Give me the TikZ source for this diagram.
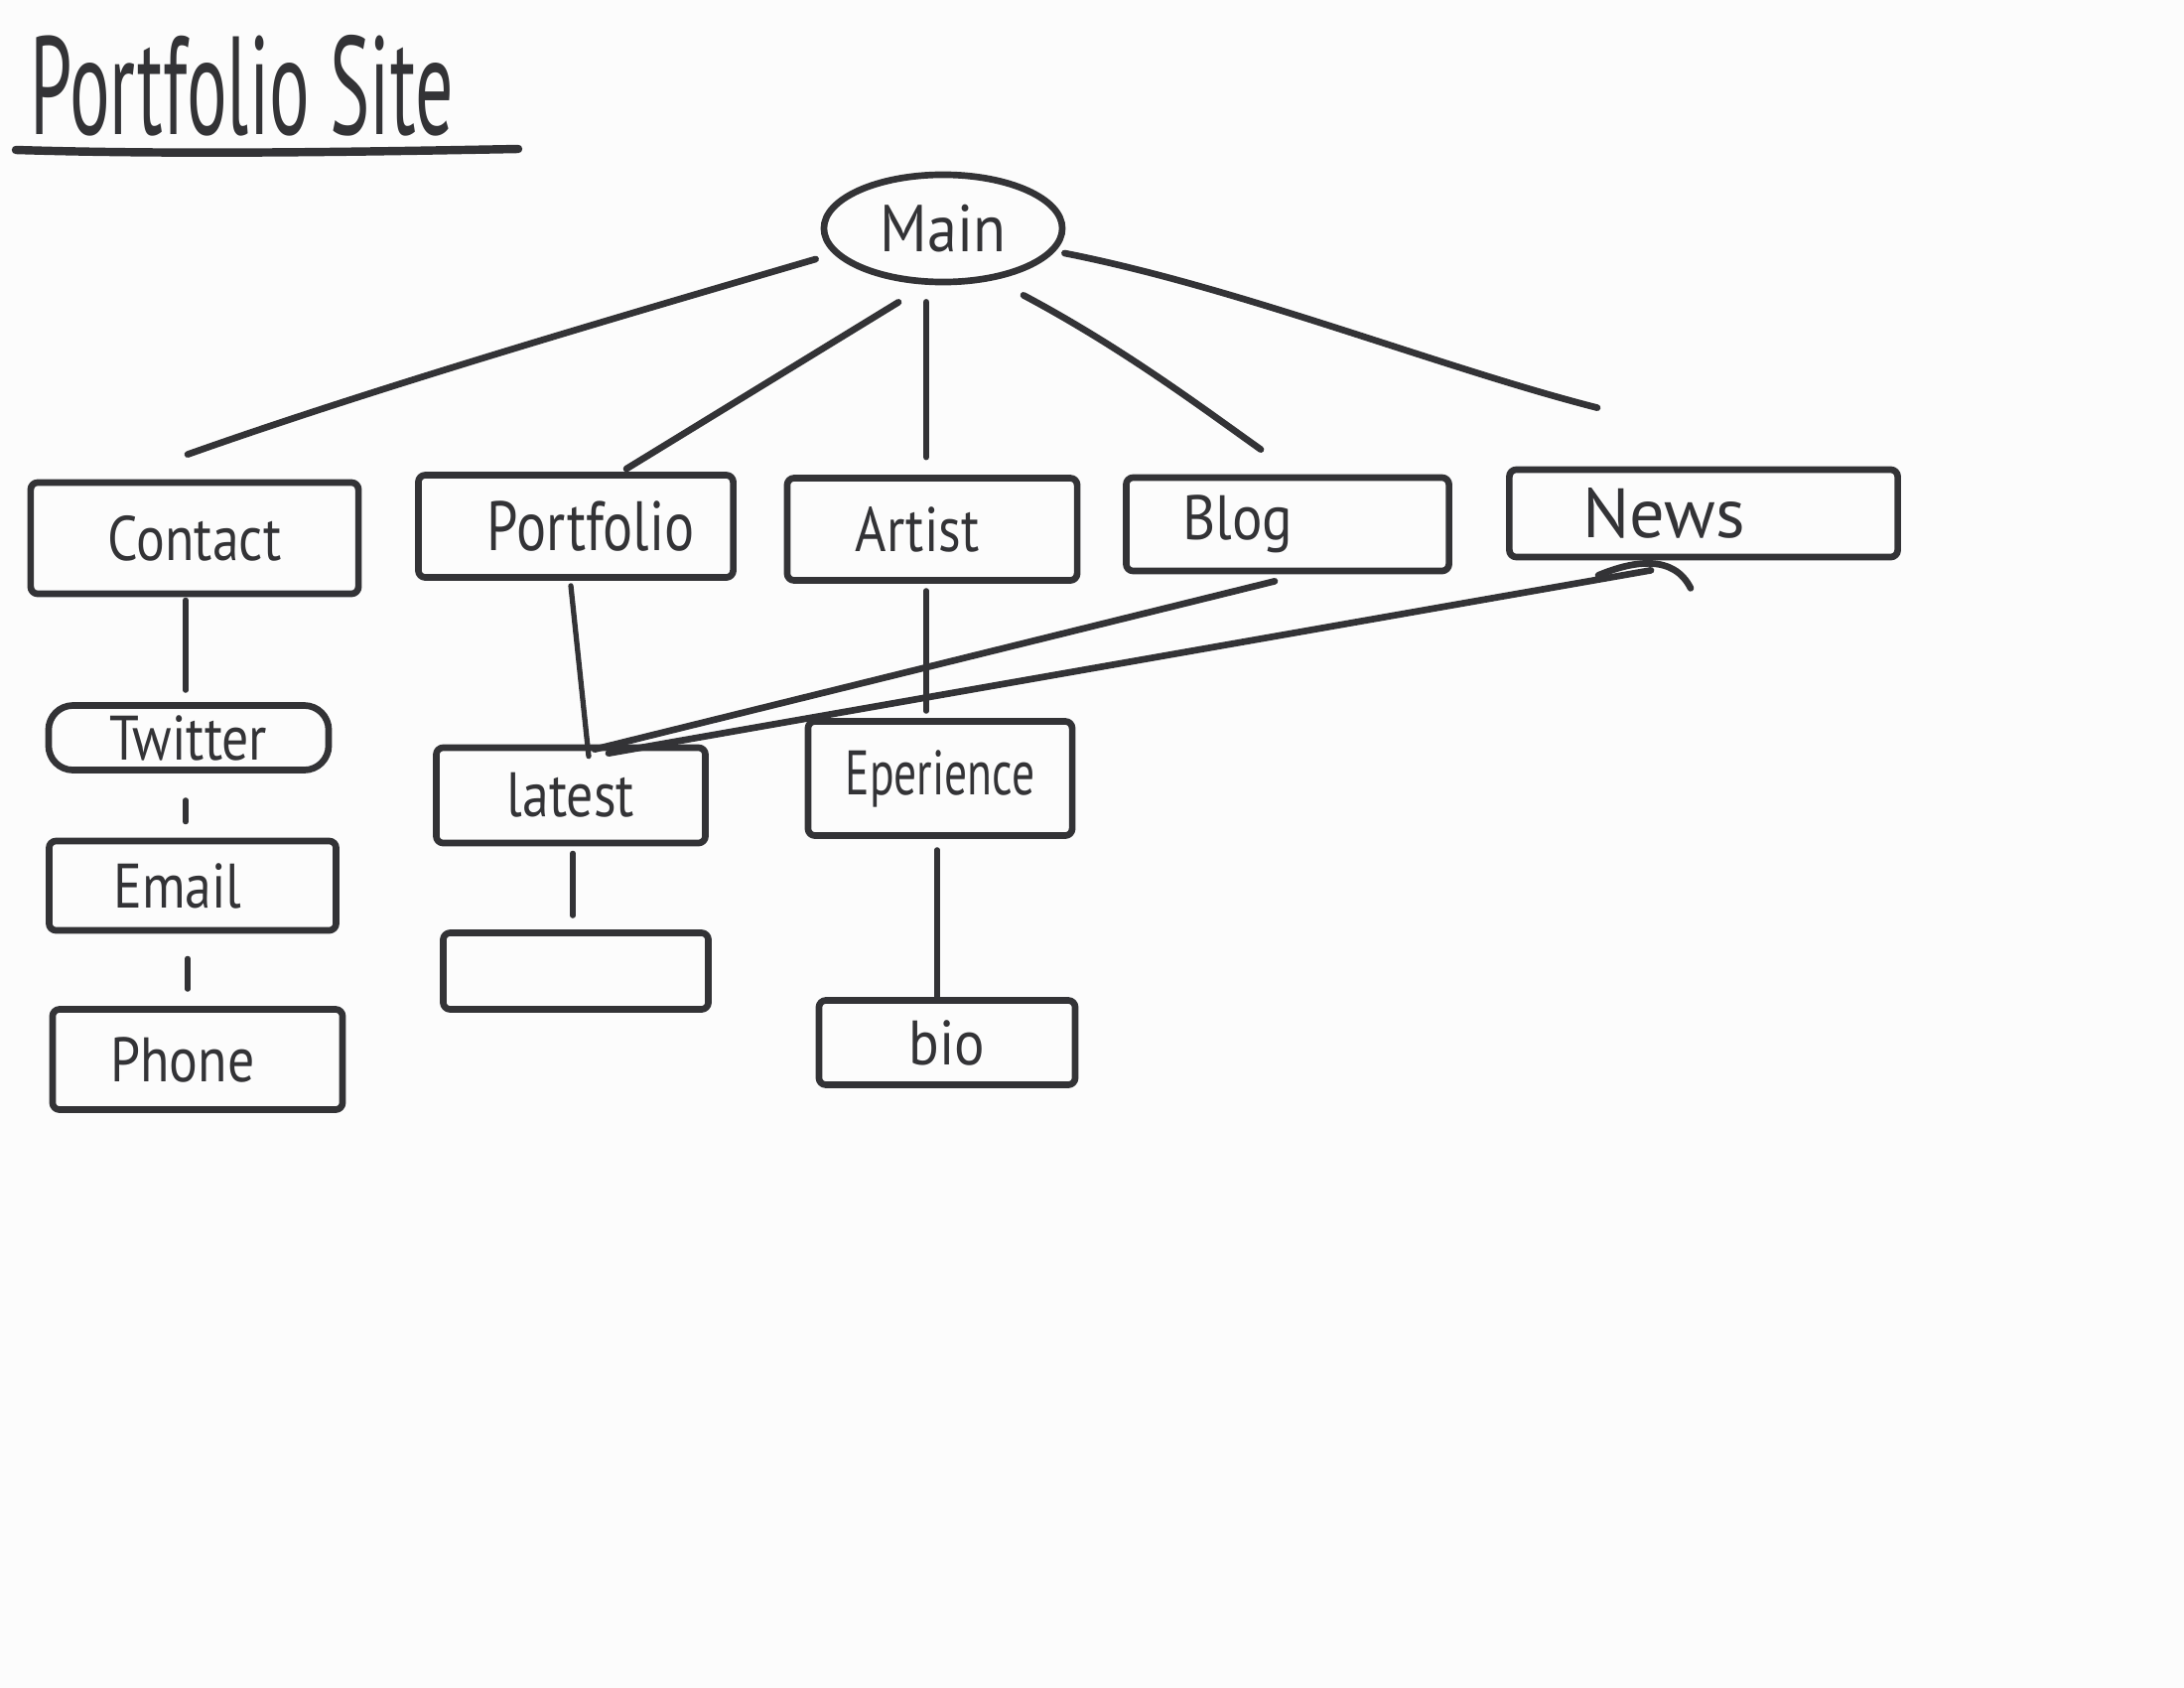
\documentclass[tikz,border=0pt]{standalone}
\usepackage{fontspec}
\setmainfont{PT Sans}
\usetikzlibrary{shapes.geometric,calc}
\definecolor{ink}{HTML}{333336}
\definecolor{paper}{HTML}{FCFCFC}
\begin{document}
\begin{tikzpicture}[x=0.01cm,y=-0.01cm,
  ink line/.style={draw=ink,line width=1.9pt,line cap=round,line join=round},
  thin link/.style={draw=ink,line width=1.5pt,line cap=round},
  pagebox/.style={ink line,rectangle,rounded corners=2pt,inner sep=0pt,
    font=\fontsize{18}{20}\selectfont,text=ink},
  ]
% paper
\fill[paper] (0,0) rectangle (2200,1700);
\useasboundingbox (0,0) rectangle (2200,1700);

% heading
\node[text=ink,font=\fontsize{40}{44}\selectfont,anchor=base west] (title) at (18,136)
  {\scalebox{0.54}[1]{Portfolio Site}};
\coordinate (ulstart) at (16,151);
\coordinate (ulend) at (522,150);
\draw[ink line,line width=2.4pt] (ulstart) .. controls (180,156) and (360,153) .. (ulend);

% root page
\node[ink line,ellipse,minimum width=2.40cm,minimum height=1.08cm,inner sep=0pt,
  font=\fontsize{19}{21}\selectfont,text=ink] (main) at (950,230)
  {\scalebox{0.9}[1]{Main}};

% first level
\node[pagebox,minimum width=3.30cm,minimum height=1.12cm] (contact) at (196,542)
  {\scalebox{0.85}[1]{Contact}};
\node[pagebox,minimum width=3.17cm,minimum height=1.03cm,font=\fontsize{20}{22}\selectfont] (portfolio) at (580,530)
  {\hspace*{0.3cm}\scalebox{0.8}[1]{Portfolio}};
\node[pagebox,minimum width=2.92cm,minimum height=1.03cm] (artist) at (939,533)
  {\hspace*{-0.3cm}\scalebox{0.85}[1]{Artist}};
\node[pagebox,minimum width=3.25cm,minimum height=0.94cm] (blog) at (1297,528)
  {\hspace*{-1.0cm}\scalebox{0.9}[1]{Blog}};
\node[pagebox,minimum width=3.91cm,minimum height=0.88cm,font=\fontsize{20}{22}\selectfont] (news) at (1716,517)
  {\hspace*{-0.8cm}\scalebox{1.0}[1]{News}};

% second level
\node[pagebox,rounded corners=7pt,minimum width=2.82cm,minimum height=0.65cm] (twitter) at (190,743)
  {\scalebox{0.85}[1]{Twitter}};
\node[pagebox,minimum width=2.89cm,minimum height=0.90cm] (email) at (194,892)
  {\hspace*{-0.3cm}\scalebox{0.85}[1]{Email}};
\node[pagebox,minimum width=2.92cm,minimum height=1.01cm] (phone) at (199,1067)
  {\hspace*{-0.3cm}\scalebox{0.85}[1]{Phone}};
\node[pagebox,minimum width=2.71cm,minimum height=0.96cm] (latest) at (575,801)
  {\scalebox{0.85}[1]{latest}};
\node[pagebox,minimum width=2.67cm,minimum height=0.77cm] (empty) at (580,978) {};
\node[pagebox,minimum width=2.66cm,minimum height=1.15cm] (exper) at (947,784)
  {\scalebox{0.72}[1]{Eperience}};
\node[pagebox,minimum width=2.58cm,minimum height=0.85cm] (bio) at (954,1050)
  {\scalebox{0.9}[1]{bio}};

% links from the root page
\draw[ink line] ($(main.west)+(-5,31)$) .. controls (620,320) and (380,390) .. ($(contact.north)+(-7,-25)$);
\draw[ink line] ($(main.south)+(-45,17)$) -- ($(portfolio.north)+(51,-3)$);
\draw[ink line] ($(main.south)+(-17,17)$) -- ($(artist.north)+(-6,-18)$);
\draw[ink line] ($(main.south)+(81,10)$) .. controls (1130,350) and (1210,410) .. ($(blog.north)+(-27,-25)$);
\draw[ink line] ($(main.east)+(-1,25)$) .. controls (1250,290) and (1450,370) .. ($(news.north)+(-107,-59)$);

% links inside the sections
\draw[thin link] ($(contact.south)+(-9,3)$) -- ($(twitter.north)+(-3,-12)$);
\draw[thin link] ($(twitter.south)+(-3,27)$) -- ($(email.north)+(-7,-16)$);
\draw[thin link] ($(email.south)+(-5,25)$) -- ($(phone.north)+(-10,-17)$);
\draw[thin link] ($(portfolio.south)+(-5,5)$) -- ($(latest.north)+(18,12)$);
\draw[thin link] ($(latest.south)+(2,7)$) -- ($(empty.north)+(-3,-14)$);
\draw[thin link] ($(artist.south)+(-6,7)$) -- ($(exper.north)+(-14,-7)$);
\draw[thin link] ($(exper.south)+(-3,11)$) -- ($(bio.north)+(-10,0)$);

% cross links into the latest page
\draw[ink line] ($(blog.south)+(-13,7)$) -- ($(latest.north)+(24,5)$);
\draw[ink line] ($(news.south)+(-53,10)$) -- ($(latest.north)+(38,9)$);
\draw[ink line] ($(news.south)+(-106,15)$) .. controls ($(news.south)+(-70,0)$) and ($(news.south)+(-30,-6)$) .. ($(news.south)+(-13,28)$);
\end{tikzpicture}
\end{document}
